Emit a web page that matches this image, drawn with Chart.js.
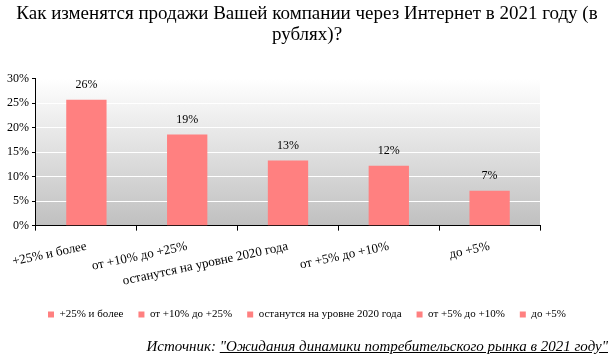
<!DOCTYPE html>
<html><head><meta charset="utf-8">
<script src="https://cdn.jsdelivr.net/npm/chart.js@4.4.1/dist/chart.umd.min.js"></script>
<style>
html,body{margin:0;padding:0;background:#fff;}
#wrap{position:relative;width:614px;height:358px;}
canvas{position:absolute;left:0;top:0;}
#src{position:absolute;right:6px;top:338px;font-family:'Liberation Serif';font-style:italic;font-size:15px;color:#000;white-space:nowrap;}
</style></head><body>
<div id="wrap"><canvas id="c" width="614" height="358"></canvas>
<div id="src">Источник: <u>"Ожидания динамики потребительского рынка в 2021 году"</u></div></div>
<script>
const titleLines = ['Как изменятся продажи Вашей компании через Интернет в 2021 году (в', 'рублях)?'];
const categories = ['+25% и более', 'от +10% до +25%', 'останутся на уровне 2020 года', 'от +5% до +10%', 'до +5%'];
const values = [25.7, 18.6, 13.3, 12.2, 7.1];
const valueLabels = ['26%', '19%', '13%', '12%', '7%'];
const yMin = 0, yMax = 30, yStep = 5;

const barColor = '#FF8080';
const serif = 'Liberation Serif';
Chart.defaults.font.family = serif;
Chart.defaults.color = '#000';

const bgPlugin = {
  id: 'bg',
  beforeDraw(chart) {
    const {ctx, chartArea: a} = chart;
    const g = ctx.createLinearGradient(0, a.top, 0, a.bottom);
    g.addColorStop(0, '#ffffff');
    g.addColorStop(1, '#c0c0c0');
    ctx.save();
    ctx.fillStyle = g;
    ctx.fillRect(a.left, a.top, a.right - a.left, a.bottom - a.top);
    ctx.restore();
  }
};
const labelPlugin = {
  id: 'vlabels',
  afterDatasetsDraw(chart) {
    const {ctx} = chart;
    const meta = chart.getDatasetMeta(0);
    ctx.save();
    ctx.font = '12px "Liberation Serif"';
    ctx.fillStyle = '#000';
    ctx.textAlign = 'center';
    ctx.textBaseline = 'middle';
    meta.data.forEach((el, i) => {
      ctx.fillText(valueLabels[i], el.x, el.y - 15);
    });
    ctx.restore();
  }
};

new Chart(document.getElementById('c'), {
  type: 'bar',
  data: {
    labels: categories,
    datasets: [{
      data: values,
      backgroundColor: barColor,
      borderWidth: 0,
      barPercentage: 0.4,
      categoryPercentage: 1.0
    }]
  },
  options: {
    responsive: false,
    animation: false,
    devicePixelRatio: 1,
    layout: {padding: {left: 0, right: 0, top: 0, bottom: 28}},
    plugins: {
      title: {
        display: true,
        text: titleLines,
        color: '#000',
        font: {family: serif, size: 19, weight: '', lineHeight: 1.12},
        padding: {top: 3, bottom: 33}
      },
      legend: {
        display: true,
        position: 'bottom',
        labels: {
          color: '#000',
          font: {family: serif, size: 11},
          boxWidth: 6,
          boxHeight: 6,
          padding: 15,
          generateLabels(chart) {
            return categories.map((c, i) => ({
              text: c, fillStyle: barColor, strokeStyle: barColor, lineWidth: 0, hidden: false, index: i
            }));
          }
        },
        onClick: () => {}
      },
      tooltip: {enabled: false}
    },
    scales: {
      x: {
        grid: {display: true, drawOnChartArea: false, drawTicks: true, tickLength: 5, color: '#000', offset: true},
        border: {display: true, color: '#000', width: 1},
        ticks: {
          color: '#000', autoSkip: false, minRotation: 12, maxRotation: 12, padding: 8,
          font: {family: serif, size: 13}
        },
        afterFit(s) { s.height = s.height - 3; }
      },
      y: {
        min: yMin, max: yMax,
        grid: {display: true, color: '#ffffff', lineWidth: 1, drawTicks: true, tickLength: 4, tickColor: '#000'},
        border: {display: true, color: '#000', width: 1},
        ticks: {
          stepSize: yStep, color: '#000', padding: 3,
          font: {family: serif, size: 12},
          callback: v => v + '%'
        },
        afterFit(s) { s.width = s.width + 4; }
      },
      yr: {
        position: 'right', display: true,
        grid: {display: false}, border: {display: false},
        ticks: {display: false},
        afterFit(s) { s.width = 74; }
      }
    }
  },
  plugins: [bgPlugin, labelPlugin]
});
</script>
</body></html>
